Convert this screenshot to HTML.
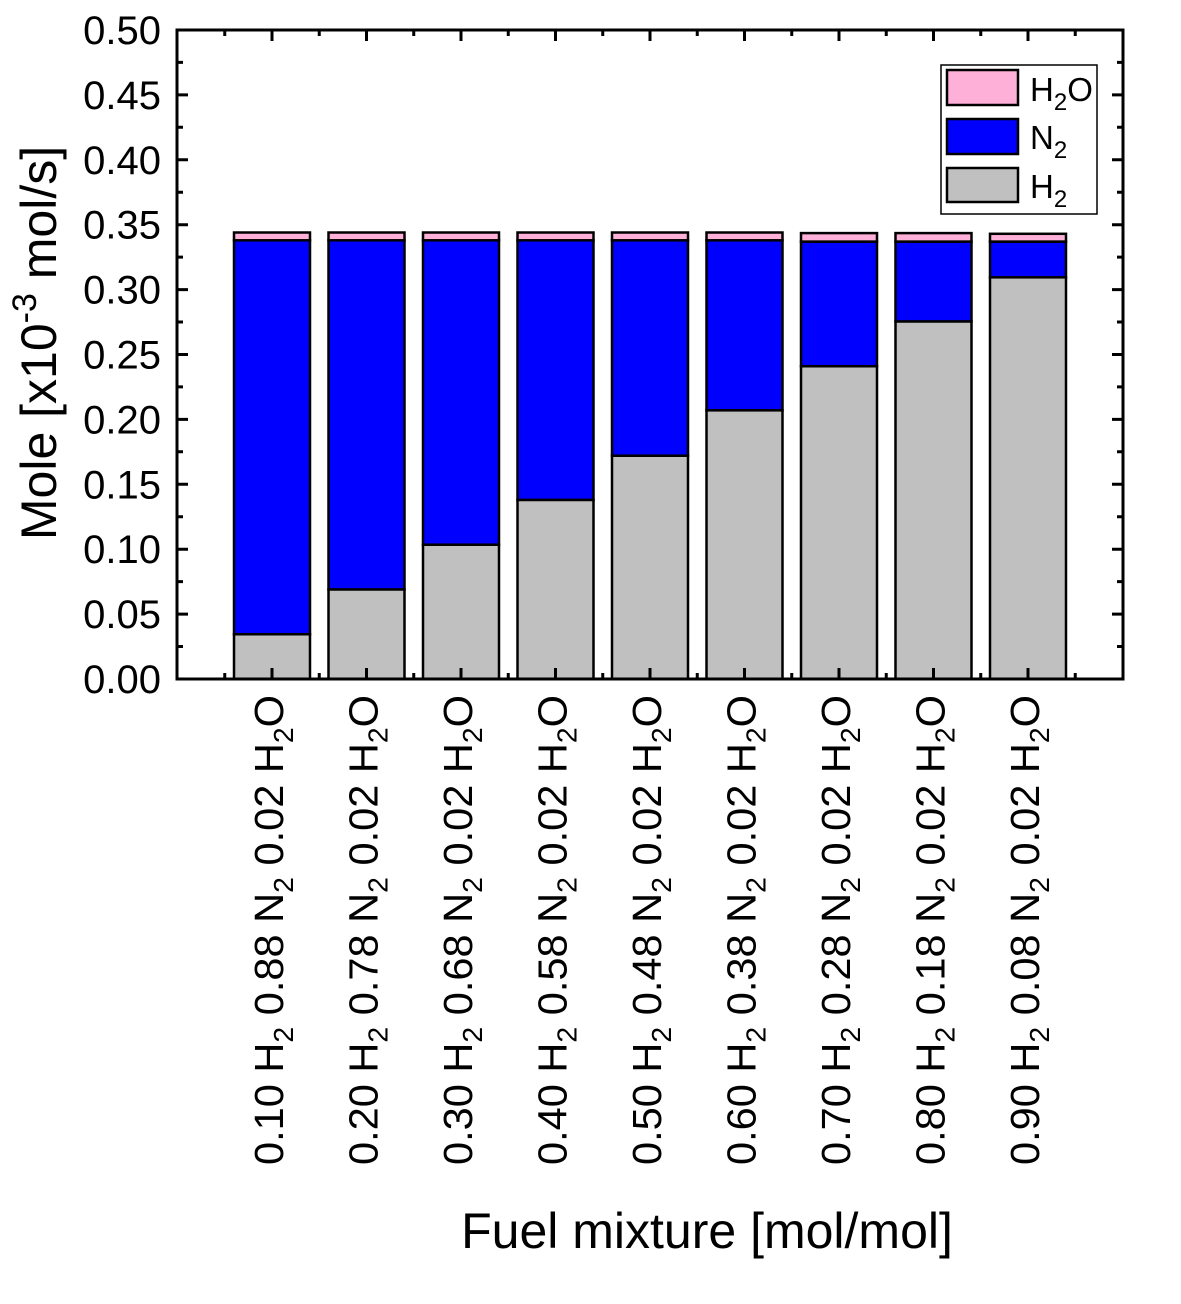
<!DOCTYPE html>
<html><head><meta charset="utf-8"><style>html,body{margin:0;padding:0;background:#fff}</style></head>
<body>
<svg width="1181" height="1299" viewBox="0 0 1181 1299" xmlns="http://www.w3.org/2000/svg" font-family="Liberation Sans, Arial, sans-serif">
<rect width="1181" height="1299" fill="#fff"/>
<g stroke="#000" stroke-width="2.5">
<rect x="234" y="634.2" width="76" height="44.8" fill="#c0c0c0"/><rect x="234" y="240.3" width="76" height="393.9" fill="#0000ff"/><rect x="234" y="232.5" width="76" height="7.8" fill="#ffb0d8"/>
<rect x="328.5" y="589.4" width="76" height="89.6" fill="#c0c0c0"/><rect x="328.5" y="240.3" width="76" height="349.1" fill="#0000ff"/><rect x="328.5" y="232.5" width="76" height="7.8" fill="#ffb0d8"/>
<rect x="423" y="544.7" width="76" height="134.3" fill="#c0c0c0"/><rect x="423" y="240.3" width="76" height="304.4" fill="#0000ff"/><rect x="423" y="232.5" width="76" height="7.8" fill="#ffb0d8"/>
<rect x="517.5" y="499.9" width="76" height="179.1" fill="#c0c0c0"/><rect x="517.5" y="240.3" width="76" height="259.6" fill="#0000ff"/><rect x="517.5" y="232.5" width="76" height="7.8" fill="#ffb0d8"/>
<rect x="612" y="455.7" width="76" height="223.3" fill="#c0c0c0"/><rect x="612" y="240.3" width="76" height="215.4" fill="#0000ff"/><rect x="612" y="232.5" width="76" height="7.8" fill="#ffb0d8"/>
<rect x="706.5" y="410.3" width="76" height="268.7" fill="#c0c0c0"/><rect x="706.5" y="240.3" width="76" height="170" fill="#0000ff"/><rect x="706.5" y="232.5" width="76" height="7.8" fill="#ffb0d8"/>
<rect x="801" y="366.2" width="76" height="312.8" fill="#c0c0c0"/><rect x="801" y="241.6" width="76" height="124.6" fill="#0000ff"/><rect x="801" y="233.1" width="76" height="8.5" fill="#ffb0d8"/>
<rect x="895.5" y="321.4" width="76" height="357.6" fill="#c0c0c0"/><rect x="895.5" y="241.6" width="76" height="79.8" fill="#0000ff"/><rect x="895.5" y="233.1" width="76" height="8.5" fill="#ffb0d8"/>
<rect x="990" y="277.3" width="76" height="401.7" fill="#c0c0c0"/><rect x="990" y="241.6" width="76" height="35.7" fill="#0000ff"/><rect x="990" y="233.8" width="76" height="7.8" fill="#ffb0d8"/>
</g>
<path stroke="#000" stroke-width="3" fill="none" d="
M177 679h11M177 614.1h11M177 549.2h11M177 484.3h11M177 419.4h11M177 354.5h11M177 289.6h11M177 224.7h11M177 159.8h11M177 94.9h11M177 30h11
M1123 679h-11M1123 614.1h-11M1123 549.2h-11M1123 484.3h-11M1123 419.4h-11M1123 354.5h-11M1123 289.6h-11M1123 224.7h-11M1123 159.8h-11M1123 94.9h-11
M177 646.5h6M177 581.6h6M177 516.7h6M177 451.8h6M177 386.9h6M177 322h6M177 257.1h6M177 192.2h6M177 127.3h6M177 62.4h6
M1123 646.5h-6M1123 581.6h-6M1123 516.7h-6M1123 451.8h-6M1123 386.9h-6M1123 322h-6M1123 257.1h-6M1123 192.2h-6M1123 127.3h-6M1123 62.4h-6
M272 679v-11M366.5 679v-11M461 679v-11M555.5 679v-11M650 679v-11M744.5 679v-11M839 679v-11M933.5 679v-11M1028 679v-11
M272 30v11M366.5 30v11M461 30v11M555.5 30v11M650 30v11M744.5 30v11M839 30v11M933.5 30v11M1028 30v11
M224.75 30v6M319.25 30v6M413.75 30v6M508.25 30v6M602.75 30v6M697.25 30v6M791.75 30v6M886.25 30v6M980.75 30v6M1075.25 30v6
M224.75 679v-6M319.25 679v-6M413.75 679v-6M508.25 679v-6M602.75 679v-6M697.25 679v-6M791.75 679v-6M886.25 679v-6M980.75 679v-6M1075.25 679v-6"/>
<rect x="177" y="30" width="946" height="649" fill="none" stroke="#000" stroke-width="3"/>
<g font-size="40" text-anchor="end">
<text x="161" y="693">0.00</text><text x="161" y="628.1">0.05</text><text x="161" y="563.2">0.10</text><text x="161" y="498.3">0.15</text><text x="161" y="433.4">0.20</text><text x="161" y="368.5">0.25</text><text x="161" y="303.6">0.30</text><text x="161" y="238.7">0.35</text><text x="161" y="173.8">0.40</text><text x="161" y="108.9">0.45</text><text x="161" y="44">0.50</text>
</g>
<g font-size="41">
<text transform="translate(283,1165) rotate(-90)" textLength="470" lengthAdjust="spacingAndGlyphs">0.10 H<tspan font-size="28" dy="10">2</tspan><tspan dy="-10"> 0.88 N</tspan><tspan font-size="28" dy="10">2</tspan><tspan dy="-10"> 0.02 H</tspan><tspan font-size="28" dy="10">2</tspan><tspan dy="-10">O</tspan></text>
<text transform="translate(377.5,1165) rotate(-90)" textLength="470" lengthAdjust="spacingAndGlyphs">0.20 H<tspan font-size="28" dy="10">2</tspan><tspan dy="-10"> 0.78 N</tspan><tspan font-size="28" dy="10">2</tspan><tspan dy="-10"> 0.02 H</tspan><tspan font-size="28" dy="10">2</tspan><tspan dy="-10">O</tspan></text>
<text transform="translate(472,1165) rotate(-90)" textLength="470" lengthAdjust="spacingAndGlyphs">0.30 H<tspan font-size="28" dy="10">2</tspan><tspan dy="-10"> 0.68 N</tspan><tspan font-size="28" dy="10">2</tspan><tspan dy="-10"> 0.02 H</tspan><tspan font-size="28" dy="10">2</tspan><tspan dy="-10">O</tspan></text>
<text transform="translate(566.5,1165) rotate(-90)" textLength="470" lengthAdjust="spacingAndGlyphs">0.40 H<tspan font-size="28" dy="10">2</tspan><tspan dy="-10"> 0.58 N</tspan><tspan font-size="28" dy="10">2</tspan><tspan dy="-10"> 0.02 H</tspan><tspan font-size="28" dy="10">2</tspan><tspan dy="-10">O</tspan></text>
<text transform="translate(661,1165) rotate(-90)" textLength="470" lengthAdjust="spacingAndGlyphs">0.50 H<tspan font-size="28" dy="10">2</tspan><tspan dy="-10"> 0.48 N</tspan><tspan font-size="28" dy="10">2</tspan><tspan dy="-10"> 0.02 H</tspan><tspan font-size="28" dy="10">2</tspan><tspan dy="-10">O</tspan></text>
<text transform="translate(755.5,1165) rotate(-90)" textLength="470" lengthAdjust="spacingAndGlyphs">0.60 H<tspan font-size="28" dy="10">2</tspan><tspan dy="-10"> 0.38 N</tspan><tspan font-size="28" dy="10">2</tspan><tspan dy="-10"> 0.02 H</tspan><tspan font-size="28" dy="10">2</tspan><tspan dy="-10">O</tspan></text>
<text transform="translate(850,1165) rotate(-90)" textLength="470" lengthAdjust="spacingAndGlyphs">0.70 H<tspan font-size="28" dy="10">2</tspan><tspan dy="-10"> 0.28 N</tspan><tspan font-size="28" dy="10">2</tspan><tspan dy="-10"> 0.02 H</tspan><tspan font-size="28" dy="10">2</tspan><tspan dy="-10">O</tspan></text>
<text transform="translate(944.5,1165) rotate(-90)" textLength="470" lengthAdjust="spacingAndGlyphs">0.80 H<tspan font-size="28" dy="10">2</tspan><tspan dy="-10"> 0.18 N</tspan><tspan font-size="28" dy="10">2</tspan><tspan dy="-10"> 0.02 H</tspan><tspan font-size="28" dy="10">2</tspan><tspan dy="-10">O</tspan></text>
<text transform="translate(1039,1165) rotate(-90)" textLength="470" lengthAdjust="spacingAndGlyphs">0.90 H<tspan font-size="28" dy="10">2</tspan><tspan dy="-10"> 0.08 N</tspan><tspan font-size="28" dy="10">2</tspan><tspan dy="-10"> 0.02 H</tspan><tspan font-size="28" dy="10">2</tspan><tspan dy="-10">O</tspan></text>
</g>
<rect x="941" y="65" width="156" height="149" fill="#fff" stroke="#000" stroke-width="1.5"/>
<rect x="947" y="70" width="71" height="35" fill="#ffb0d8" stroke="#000" stroke-width="2.5"/>
<rect x="947" y="119" width="71" height="35" fill="#0000ff" stroke="#000" stroke-width="2.5"/>
<rect x="947" y="168" width="71" height="34" fill="#c0c0c0" stroke="#000" stroke-width="2.5"/>
<text x="1030" y="101" font-size="33">H<tspan font-size="24" dy="9">2</tspan><tspan dy="-9">O</tspan></text>
<text x="1030" y="149" font-size="33">N<tspan font-size="24" dy="9">2</tspan></text>
<text x="1030" y="198" font-size="33">H<tspan font-size="24" dy="9">2</tspan></text>
<text transform="translate(56,343) rotate(-90)" font-size="50" text-anchor="middle">Mole [x10<tspan font-size="34" dy="-20">-3</tspan><tspan dy="20"> mol/s]</tspan></text>
<text x="707" y="1248" font-size="50" text-anchor="middle">Fuel mixture [mol/mol]</text>
</svg>
</body></html>
